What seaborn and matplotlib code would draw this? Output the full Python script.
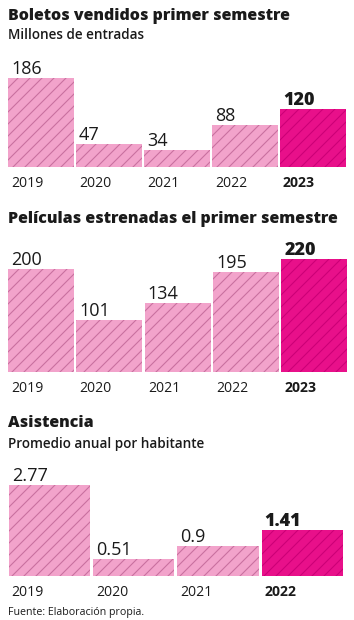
import matplotlib
matplotlib.use('Agg')
import matplotlib.pyplot as plt
import seaborn as sns

# Data
boletos_years = ['2019', '2020', '2021', '2022', '2023']
boletos_values = [186, 47, 34, 88, 120]

peliculas_years = ['2019', '2020', '2021', '2022', '2023']
peliculas_values = [200, 101, 134, 195, 220]

asistencia_years = ['2019', '2020', '2021', '2022']
asistencia_values = [2.77, 0.51, 0.9, 1.41]
asistencia_labels = ['2.77', '0.51', '0.9', '1.41']

sns.set_theme(style='white')
plt.rcParams['font.family'] = ['Open Sans', 'DejaVu Sans']
plt.rcParams['hatch.linewidth'] = 1.1

LIGHT = '#f2a3cb'
LIGHT_HATCH = '#c9709f'
DARK = '#e8108a'
DARK_HATCH = '#cc0077'
TEXT = '#1a1a1a'

W, H = 354, 620
fig = plt.figure(figsize=(W / 72, H / 72), dpi=72)


def px_axes(left, right, bottom, height):
    # rect in pixel coords measured from the top of the image
    return fig.add_axes([left / W, 1 - bottom / H, (right - left) / W, height / H])


def draw_bars(ax, years, values, labels, ymax):
    colors = [LIGHT] * (len(years) - 1) + [DARK]
    sns.barplot(x=years, y=values, hue=years, palette=colors, legend=False,
                width=0.966, ax=ax, linewidth=0, saturation=1)
    for i, p in enumerate(ax.patches):
        last = i == len(years) - 1
        p.set_hatch('//')
        p.set_edgecolor(DARK_HATCH if last else LIGHT_HATCH)
        p.set_linewidth(0)
        ax.annotate(labels[i], xy=(p.get_x(), p.get_height()), xytext=(3, 4),
                    textcoords='offset points', ha='left', va='baseline',
                    fontsize=18, color=TEXT,
                    fontweight='heavy' if last else 'normal', annotation_clip=False)
        ax.annotate(years[i], xy=(p.get_x(), 0), xytext=(3, -20),
                    textcoords='offset points', ha='left', va='baseline',
                    fontsize=14, color=TEXT,
                    fontweight='bold' if last else 'normal', annotation_clip=False)
    ax.set_xlim(-0.5, len(years) - 0.5)
    ax.set_ylim(0, ymax)
    ax.axis('off')


# Chart 1
ax1 = px_axes(7, 346.8, 166.7, 100)
draw_bars(ax1, boletos_years, boletos_values, [str(v) for v in boletos_values], 100 / 0.4767)
fig.text(8 / W, 1 - 20 / H, 'Boletos vendidos primer semestre', fontsize=16,
         fontweight='heavy', color=TEXT, va='baseline')
fig.text(8 / W, 1 - 39 / H, 'Millones de entradas', fontsize=13.5,
         fontweight='semibold', color=TEXT, va='baseline')

# Chart 2
ax2 = px_axes(7, 348.5, 372.3, 115)
draw_bars(ax2, peliculas_years, peliculas_values, [str(v) for v in peliculas_values], 115 / 0.515)
fig.text(8 / W, 1 - 223.3 / H, 'Películas estrenadas el primer semestre', fontsize=16,
         fontweight='heavy', color=TEXT, va='baseline')

# Chart 3
ax3 = px_axes(7.2, 344.5, 575.7, 100)
draw_bars(ax3, asistencia_years, asistencia_values, asistencia_labels, 100 / 32.74)
fig.text(8 / W, 1 - 426.7 / H, 'Asistencia', fontsize=16,
         fontweight='heavy', color=TEXT, va='baseline')
fig.text(8 / W, 1 - 447.7 / H, 'Promedio anual por habitante', fontsize=13.5,
         fontweight='semibold', color=TEXT, va='baseline')
fig.text(8 / W, 1 - 615.3 / H, 'Fuente: Elaboración propia.', fontsize=10.6,
         color=TEXT, va='baseline')

fig.savefig('out.png', dpi=72)
